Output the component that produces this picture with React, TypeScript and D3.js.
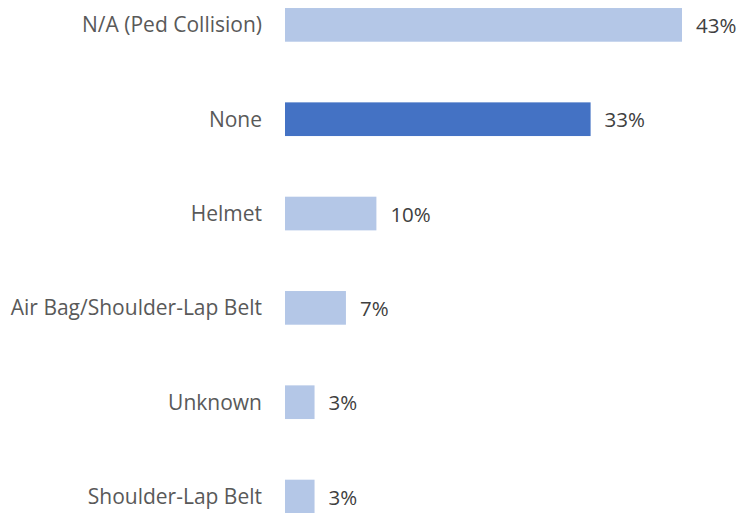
import React from "react";
import * as d3 from "d3";

const categories = [
  "N/A (Ped Collision)",
  "None",
  "Helmet",
  "Air Bag/Shoulder-Lap Belt",
  "Unknown",
  "Shoulder-Lap Belt",
];
const values = [43.0, 33.1, 9.9, 6.6, 3.2, 3.2];
const highlighted = ["None"];

const W = 740;
const H = 513;

export default function App() {
  const x = d3.scaleLinear().domain([0, 43]).range([285, 682]);
  const y = d3
    .scaleBand<string>()
    .domain(categories)
    .range([-22.3, 543.7])
    .paddingInner(0.643)
    .paddingOuter(0.3215);
  const font = "'Open Sans', sans-serif";
  return (
    <svg
      width={W}
      height={H}
      style={{ position: "absolute", left: 0, top: 0, background: "#fff" }}
    >
      {categories.map((c, i) => {
        const yy = y(c)!;
        const bw = y.bandwidth();
        const cy = yy + bw / 2;
        return (
          <g key={c}>
            <rect
              x={x(0)}
              y={yy}
              width={x(values[i]) - x(0)}
              height={bw}
              fill={highlighted.includes(c) ? "#4472C4" : "#B4C7E7"}
            />
            <text
              x={262}
              y={cy - 0.5}
              textAnchor="end"
              dominantBaseline="central"
              fontFamily={font}
              fontSize={21}
              fill="#595959"
            >
              {c}
            </text>
            <text
              x={x(values[i]) + 14}
              y={cy}
              dominantBaseline="central"
              fontFamily={font}
              fontSize={20.5}
              fill="#404040"
            >
              {d3.format(".0f")(values[i]) + "%"}
            </text>
          </g>
        );
      })}
    </svg>
  );
}
